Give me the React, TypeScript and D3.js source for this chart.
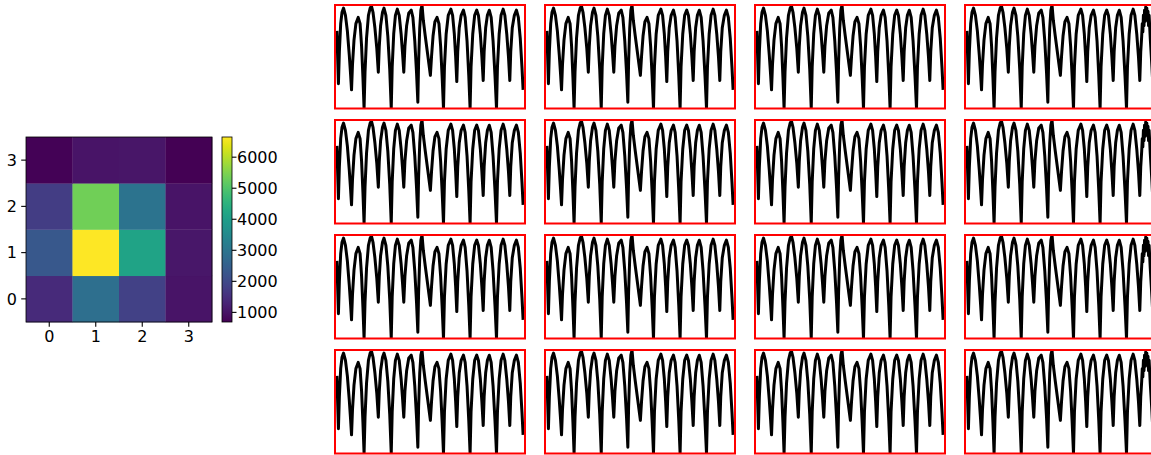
import React from "react";
import * as d3 from "d3";

// Heatmap data (rows listed bottom row 0 .. top row 3), columns 0..3
const heatRows = [0, 1, 2, 3];
const heatCols = [0, 1, 2, 3];
const heatValues: number[][] = [
  [1400, 2850, 1850, 1000], // row 0
  [2300, 6650, 4150, 1050], // row 1
  [1750, 5350, 2950, 1000], // row 2
  [720, 1000, 1020, 690], // row 3
];
const colorbarTicks = [1000, 2000, 3000, 4000, 5000, 6000];

// Waveform (time, normalized value)
const waveT = [
  1.0, 1.8, 2.3, 3.0, 3.7, 4.5, 5.5, 6.5, 7.5, 8.2, 8.7, 9.2, 10.0, 11.0, 12.2, 13.2, 14.0, 14.7, 15.3,
  15.8, 16.6, 17.6, 18.5, 19.2, 20.0, 21.0, 22.0, 22.8, 23.3, 24.0, 25.0, 25.8, 26.8, 27.8, 28.8, 29.6,
  30.1, 30.9, 31.8, 32.8, 33.8, 34.8, 35.6, 36.2, 36.8, 37.7, 38.8, 40.1, 41.0, 42.0, 42.9, 43.6,
  44.0, 44.6, 45.2, 45.8, 46.5, 47.5, 48.8, 50.2, 50.8, 51.6, 52.6, 53.7, 54.7, 55.6, 56.4, 57.1,
  57.6, 58.5, 59.6, 61.0, 61.9, 62.8, 63.5, 64.1, 64.6, 65.4, 66.4, 67.6, 68.5, 69.5, 70.4, 71.1,
  71.6, 72.5, 73.5, 74.6, 75.5, 76.5, 77.3, 78.0, 78.5, 79.3, 80.2, 81.2, 82.2, 83.2, 84.2, 85.0,
  85.5, 86.4, 87.4, 88.5, 89.4, 90.4, 91.3, 92.0, 92.5, 93.3, 94.4, 95.5, 96.5, 97.5, 98.4, 99.0,
];
const waveV = [
  0.75, 0.24, 0.55, 0.82, 0.93, 0.97, 0.9, 0.75, 0.52, 0.33, 0.18, 0.42, 0.66, 0.82, 0.88, 0.82, 0.6, 0.3, 0.0,
  0.35, 0.68, 0.9, 0.97, 0.99, 0.93, 0.78, 0.58, 0.35, 0.6, 0.8, 0.93, 0.97, 0.9, 0.7, 0.38, 0.0,
  0.4, 0.72, 0.9, 0.96, 0.9, 0.72, 0.52, 0.35, 0.6, 0.8, 0.92, 0.95, 0.88, 0.65, 0.35, 0.06,
  0.45, 0.78, 0.95, 1.0, 0.85, 0.7, 0.52, 0.32, 0.5, 0.7, 0.84, 0.88, 0.82, 0.6, 0.3, 0.0,
  0.4, 0.72, 0.9, 0.96, 0.9, 0.72, 0.5, 0.26, 0.55, 0.78, 0.9, 0.95, 0.88, 0.65, 0.32, 0.0,
  0.4, 0.72, 0.9, 0.95, 0.9, 0.72, 0.5, 0.27, 0.55, 0.78, 0.9, 0.95, 0.88, 0.65, 0.32, 0.0,
  0.4, 0.72, 0.9, 0.96, 0.9, 0.72, 0.5, 0.27, 0.55, 0.78, 0.9, 0.95, 0.88, 0.68, 0.4, 0.18,
];
// Noisy tail seen in the rightmost column
const noisyTailT = [92.5, 93.0, 93.3, 93.6, 93.9, 94.2, 94.5, 94.8, 95.1, 95.4, 95.7, 96.0, 96.3, 96.6, 96.9];
const noisyTailV = [0.55, 0.7, 0.82, 0.74, 0.9, 0.8, 0.95, 0.84, 0.98, 0.86, 0.97, 0.85, 0.94, 0.8, 0.9];

const panelRows = [0, 1, 2, 3];
const panelCols = [0, 1, 2, 3];

const W = 1151;
const H = 455;

export default function App() {
  const font = "DejaVu Sans, sans-serif";
  const fs = 16;
  // Heatmap geometry
  const hx = d3.scaleBand<number>().domain(heatCols).range([26, 212]).padding(0);
  const hy = d3.scaleBand<number>().domain([...heatRows].reverse()).range([137, 322]).padding(0);
  const vmin = d3.min(heatValues.flat()) as number;
  const vmax = d3.max(heatValues.flat()) as number;
  const color = d3.scaleSequential(d3.interpolateViridis).domain([vmin, vmax]);
  const cbY = d3.scaleLinear().domain([vmin, vmax]).range([322, 137]);
  const stops = d3.range(0, 1.0001, 0.05);

  const baseData = waveT.map((t, i) => [t, waveV[i]] as [number, number]);
  const noisyData: [number, number][] = [
    ...baseData.filter((d) => d[0] < 92.5),
    ...noisyTailT.map((t, i) => [t, noisyTailV[i]] as [number, number]),
    ...baseData.filter((d) => d[0] > 96.9),
  ];

  const pw = 190;
  const ph = 103.5;
  const px = d3.scaleLinear().domain([0, 100]).range([0, pw]);
  const py = d3.scaleLinear().domain([0, 1]).range([ph, 0]);
  const line = d3
    .line<[number, number]>()
    .x((d) => px(d[0]))
    .y((d) => py(d[1]))
    .curve(d3.curveLinear);

  return (
    <div style={{ position: "absolute", left: 0, top: 0 }}>
      <svg width={W} height={H} style={{ display: "block", background: "#fff" }} fontFamily={font}>
        <defs>
          <linearGradient id="cbgrad" x1="0" y1="1" x2="0" y2="0">
            {stops.map((s) => (
              <stop key={s} offset={s} stopColor={d3.interpolateViridis(s)} />
            ))}
          </linearGradient>
          {panelRows.map((r) =>
            panelCols.map((c) => (
              <clipPath id={`clip-${r}-${c}`} key={`${r}-${c}`}>
                <rect x={0} y={0} width={pw} height={ph} />
              </clipPath>
            ))
          )}
        </defs>

        {/* Heatmap */}
        {heatRows.map((r) =>
          heatCols.map((c) => (
            <rect
              key={`h-${r}-${c}`}
              x={hx(c)}
              y={hy(r)}
              width={hx.bandwidth() + 0.3}
              height={hy.bandwidth() + 0.3}
              fill={color(heatValues[r][c])}
            />
          ))
        )}
        <rect x={26} y={137} width={186} height={185} fill="none" stroke="#000" strokeWidth={0.8} />
        {heatRows.map((r) => {
          const yc = (hy(r) as number) + hy.bandwidth() / 2;
          return (
            <g key={`yt-${r}`}>
              <line x1={21.2} x2={26} y1={yc} y2={yc} stroke="#000" strokeWidth={1.1} />
              <text x={17} y={yc + fs * 0.36} fontSize={fs} textAnchor="end" fill="#000">
                {r}
              </text>
            </g>
          );
        })}
        {heatCols.map((c) => {
          const xc = (hx(c) as number) + hx.bandwidth() / 2;
          return (
            <g key={`xt-${c}`}>
              <line x1={xc} x2={xc} y1={322} y2={326.8} stroke="#000" strokeWidth={1.1} />
              <text x={xc} y={341.5} fontSize={fs} textAnchor="middle" fill="#000">
                {c}
              </text>
            </g>
          );
        })}

        {/* Colorbar */}
        <rect x={222} y={137} width={10} height={185} fill="url(#cbgrad)" stroke="#000" strokeWidth={0.8} />
        {colorbarTicks.map((t) => (
          <g key={`cb-${t}`}>
            <line x1={232} x2={236.5} y1={cbY(t)} y2={cbY(t)} stroke="#000" strokeWidth={1.1} />
            <text x={237} y={cbY(t) + fs * 0.36} fontSize={fs} fill="#000">
              {t}
            </text>
          </g>
        ))}

        {/* Line panels */}
        {panelRows.map((r) =>
          panelCols.map((c) => {
            const x0 = 335 + c * 210;
            const y0 = 5 + r * 115;
            const data = c === 3 ? noisyData : baseData;
            return (
              <g key={`p-${r}-${c}`} transform={`translate(${x0},${y0})`}>
                <g clipPath={`url(#clip-${r}-${c})`}>
                  <path d={line(data) || ""} fill="none" stroke="#000" strokeWidth={3} strokeLinejoin="round" />
                </g>
                <rect x={0} y={0} width={pw} height={ph} fill="none" stroke="#ff0000" strokeWidth={2} />
              </g>
            );
          })
        )}
      </svg>
    </div>
  );
}
